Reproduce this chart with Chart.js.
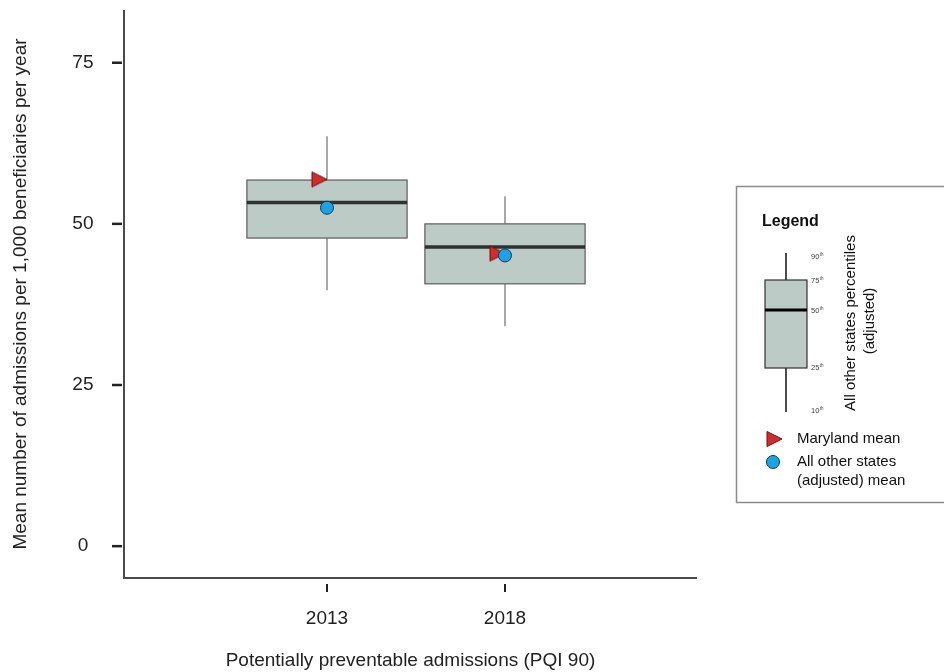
<!DOCTYPE html>
<html>
<head>
<meta charset="utf-8">
<script src="https://cdn.jsdelivr.net/npm/chart.js@4.4.1/dist/chart.umd.min.js"></script>
<style>
html,body{margin:0;padding:0;background:#ffffff;}
#wrap{width:944px;height:672px;position:relative;}
</style>
</head>
<body>
<div id="wrap"><canvas id="chart" width="944" height="672"></canvas></div>
<script>
// ---- data ----
const categories = ['2013', '2018'];
const positions = [1, 2];
const p10 = [39.7, 34.1];
const p25 = [47.8, 40.7];
const p50 = [53.3, 46.4];
const p75 = [56.8, 50.0];
const p90 = [63.6, 54.3];
const marylandMean = [56.9, 45.4];
const otherStatesMean = [52.5, 45.1];
const yTicks = [0, 25, 50, 75];
const percentileLabels = ['90', '75', '50', '25', '10'];

// ---- styles ----
const FONT = "'Liberation Sans', Arial, Helvetica, sans-serif";
const TEXT = '#222222';
const BOX_WIDTH = 0.9;
const BOX_FILL = '#bdcbc7';
const BOX_EDGE = '#5c5c5c';
const MEDIAN = '#2c3331';
const WHISKER = '#8c8c8c';
const TRI_FILL = '#d42b2b';
const TRI_EDGE = '#6e1010';
const DOT_FILL = '#19a5e5';
const DOT_EDGE = '#1b3550';

function makeTriangle() {
  const c = document.createElement('canvas');
  c.width = 36; c.height = 20;
  const g = c.getContext('2d');
  g.beginPath();
  g.moveTo(3, 2.5); g.lineTo(3, 17.5); g.lineTo(18, 10); g.closePath();
  g.fillStyle = TRI_FILL; g.fill();
  g.strokeStyle = TRI_EDGE; g.lineWidth = 1; g.stroke();
  return c;
}
const triangle = makeTriangle();

const boxPlugin = {
  id: 'boxes',
  beforeDatasetsDraw(chart) {
    const { ctx, scales: { x, y }, chartArea } = chart;
    ctx.save();
    // spines
    ctx.strokeStyle = '#4a4a4a';
    ctx.lineWidth = 2;
    ctx.beginPath();
    ctx.moveTo(chartArea.left, chartArea.top);
    ctx.lineTo(chartArea.left, chartArea.bottom);
    ctx.lineTo(chartArea.right, chartArea.bottom);
    ctx.stroke();
    // y tick marks
    ctx.strokeStyle = '#222';
    ctx.lineWidth = 2.5;
    yTicks.forEach(v => {
      const py = y.getPixelForValue(v);
      ctx.beginPath();
      ctx.moveTo(chartArea.left - 12, py);
      ctx.lineTo(chartArea.left - 2, py);
      ctx.stroke();
    });
    // x tick marks
    ctx.lineWidth = 2;
    positions.forEach(v => {
      const px = x.getPixelForValue(v);
      ctx.beginPath();
      ctx.moveTo(px, chartArea.bottom + 6);
      ctx.lineTo(px, chartArea.bottom + 14);
      ctx.stroke();
    });
    // boxes
    positions.forEach((pos, i) => {
      const cx = x.getPixelForValue(pos);
      const xl = x.getPixelForValue(pos - BOX_WIDTH / 2);
      const xr = x.getPixelForValue(pos + BOX_WIDTH / 2);
      const yTop = y.getPixelForValue(p75[i]);
      const yBot = y.getPixelForValue(p25[i]);
      ctx.strokeStyle = WHISKER;
      ctx.lineWidth = 1.5;
      ctx.beginPath();
      ctx.moveTo(cx, y.getPixelForValue(p90[i])); ctx.lineTo(cx, yTop);
      ctx.moveTo(cx, yBot); ctx.lineTo(cx, y.getPixelForValue(p10[i]));
      ctx.stroke();
      ctx.fillStyle = BOX_FILL;
      ctx.fillRect(xl, yTop, xr - xl, yBot - yTop);
      ctx.strokeStyle = BOX_EDGE;
      ctx.lineWidth = 1.2;
      ctx.strokeRect(xl, yTop, xr - xl, yBot - yTop);
      const ym = y.getPixelForValue(p50[i]);
      ctx.strokeStyle = MEDIAN;
      ctx.lineWidth = 3.5;
      ctx.beginPath();
      ctx.moveTo(xl, ym); ctx.lineTo(xr, ym);
      ctx.stroke();
    });
    ctx.restore();
  }
};

const legendPlugin = {
  id: 'customLegend',
  afterDraw(chart) {
    const ctx = chart.ctx;
    ctx.save();
    // frame
    ctx.strokeStyle = '#8c8c8c';
    ctx.lineWidth = 1.5;
    ctx.strokeRect(736.5, 186.5, 240, 316);
    // title
    ctx.fillStyle = '#111';
    ctx.font = 'bold 16px ' + FONT;
    ctx.textAlign = 'left';
    ctx.textBaseline = 'middle';
    ctx.fillText('Legend', 762, 222);
    // mini box plot
    ctx.strokeStyle = '#111';
    ctx.lineWidth = 1.5;
    ctx.beginPath();
    ctx.moveTo(786, 253); ctx.lineTo(786, 280);
    ctx.moveTo(786, 368); ctx.lineTo(786, 412);
    ctx.stroke();
    ctx.fillStyle = BOX_FILL;
    ctx.fillRect(765, 280, 42, 88);
    ctx.strokeStyle = '#333';
    ctx.lineWidth = 1.2;
    ctx.strokeRect(765, 280, 42, 88);
    ctx.strokeStyle = '#000';
    ctx.lineWidth = 3;
    ctx.beginPath(); ctx.moveTo(765, 310); ctx.lineTo(807, 310); ctx.stroke();
    // percentile labels
    const ys = [257, 281, 311, 368, 411];
    percentileLabels.forEach((t, k) => {
      ctx.fillStyle = '#444';
      ctx.font = '7.5px ' + FONT;
      ctx.textAlign = 'left';
      ctx.textBaseline = 'middle';
      ctx.fillText(t, 811, ys[k]);
      const w = ctx.measureText(t).width;
      ctx.font = '4.5px ' + FONT;
      ctx.fillText('th', 811 + w + 0.5, ys[k] - 2);
    });
    // rotated caption
    ctx.save();
    ctx.fillStyle = '#111';
    ctx.font = '15px ' + FONT;
    ctx.textAlign = 'center';
    ctx.textBaseline = 'middle';
    ctx.translate(851, 323);
    ctx.rotate(-Math.PI / 2);
    ctx.fillText('All other states percentiles', 0, 0);
    ctx.restore();
    ctx.save();
    ctx.fillStyle = '#111';
    ctx.font = '15px ' + FONT;
    ctx.textAlign = 'center';
    ctx.textBaseline = 'middle';
    ctx.translate(870, 321);
    ctx.rotate(-Math.PI / 2);
    ctx.fillText('(adjusted)', 0, 0);
    ctx.restore();
    // marker entries
    ctx.drawImage(triangle, 782 - 18, 439 - 10);
    ctx.beginPath();
    ctx.arc(773, 462, 6.5, 0, Math.PI * 2);
    ctx.fillStyle = DOT_FILL; ctx.fill();
    ctx.strokeStyle = DOT_EDGE; ctx.lineWidth = 1; ctx.stroke();
    ctx.fillStyle = '#111';
    ctx.font = '15px ' + FONT;
    ctx.textAlign = 'left';
    ctx.textBaseline = 'middle';
    ctx.fillText('Maryland mean', 797, 439);
    ctx.fillText('All other states', 797, 462);
    ctx.fillText('(adjusted) mean', 797, 481);
    ctx.restore();
  }
};

new Chart(document.getElementById('chart'), {
  type: 'scatter',
  data: {
    datasets: [
      {
        label: 'All other states (adjusted) mean',
        data: positions.map((p, i) => ({ x: p, y: otherStatesMean[i] })),
        pointStyle: 'circle',
        pointRadius: 6.5,
        pointHoverRadius: 6.5,
        backgroundColor: DOT_FILL,
        borderColor: DOT_EDGE,
        borderWidth: 1,
        order: 0
      },
      {
        label: 'Maryland mean',
        data: positions.map((p, i) => ({ x: p, y: marylandMean[i] })),
        pointStyle: triangle,
        pointRadius: 9,
        order: 1
      }
    ]
  },
  options: {
    responsive: false,
    devicePixelRatio: 1,
    animation: false,
    events: [],
    layout: { padding: { left: 0, top: 7, right: 247, bottom: 0 } },
    plugins: { legend: { display: false }, tooltip: { enabled: false } },
    scales: {
      x: {
        type: 'linear',
        min: -0.1404,
        max: 3.0787,
        afterBuildTicks: s => { s.ticks = positions.map(v => ({ value: v })); },
        afterFit: s => { s.height = 94; s.paddingLeft = 0; s.paddingRight = 0; },
        grid: { display: false },
        border: { display: false },
        ticks: {
          autoSkip: false, maxRotation: 0,
          padding: 21,
          color: TEXT,
          font: { family: FONT, size: 19 },
          callback: v => categories[positions.indexOf(v)]
        },
        title: {
          display: true,
          text: 'Potentially preventable admissions (PQI 90)',
          color: TEXT,
          font: { family: FONT, size: 19 },
          padding: { top: 0, bottom: 0 }
        }
      },
      y: {
        min: -4.94,
        max: 83.18,
        afterBuildTicks: s => { s.ticks = yTicks.map(v => ({ value: v })); },
        afterFit: s => { s.width = 124; s.paddingTop = 0; s.paddingBottom = 0; },
        grid: { display: false },
        border: { display: false },
        ticks: {
          padding: 22.5,
          crossAlign: 'center',
          color: TEXT,
          font: { family: FONT, size: 19 }
        },
        title: {
          display: true,
          text: 'Mean number of admissions per 1,000 beneficiaries per year',
          color: TEXT,
          font: { family: FONT, size: 19 },
          padding: { top: 9, bottom: 0 }
        }
      }
    }
  },
  plugins: [boxPlugin, legendPlugin]
});
</script>
</body>
</html>
